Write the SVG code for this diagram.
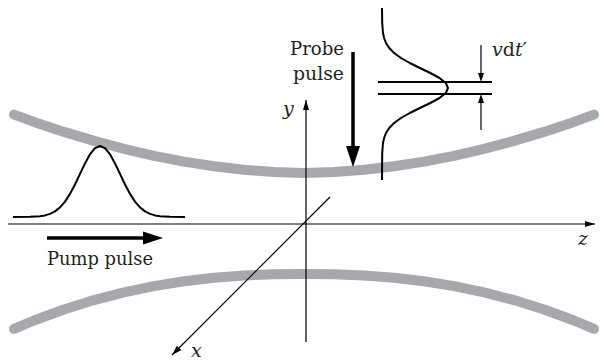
<svg xmlns="http://www.w3.org/2000/svg" width="600" height="361" viewBox="0 0 600 361">
<style>
.beam{fill:none;stroke:#a7a8ab;stroke-width:10;stroke-linecap:round;stroke-linejoin:round}
.ax{fill:none;stroke:#000;stroke-width:1.2}
.curve{fill:none;stroke:#000;stroke-width:2;stroke-linejoin:round}
</style>
<defs>
<marker id="ah" viewBox="0 0 10 6" refX="10" refY="3" markerWidth="10" markerHeight="6" markerUnits="userSpaceOnUse" orient="auto">
<path d="M0,0 L10,3 L0,6 Z" fill="#000"/>
</marker>
</defs>
<rect width="600" height="361" fill="#fff"/>
<g id="beams">
<polyline class="beam" points="14,114.6 34,121.9 64,131.9 94,140.9 124,148.9 154,155.8 184,161.6 214,166.3 244,169.8 274,172.1 304,173 334,172.1 364,169.8 394,166.3 424,161.6 454,155.8 484,148.9 514,140.9 544,131.9 574,121.9 594,114.6"/>
<polyline class="beam" points="14,328.8 34,320.5 64,309.5 94,300.1 124,292.3 154,286.1 184,281.2 214,277.7 244,275.5 274,274.3 304,274 334,274.3 364,275.5 394,277.7 424,281.2 454,286.1 484,292.3 514,300.1 544,309.5 574,320.5 594,328.8"/>
</g>
<g id="connectors">
<line class="ax" x1="8" y1="224" x2="595" y2="224" marker-end="url(#ah)"/>
<line class="ax" x1="306" y1="342" x2="306" y2="100" marker-end="url(#ah)"/>
<line class="ax" x1="330" y1="197" x2="172" y2="355" marker-end="url(#ah)"/>
<line x1="47" y1="238" x2="146" y2="238" stroke="#000" stroke-width="3.5"/>
<polygon points="163,238 143,231.5 143,244.5" fill="#000"/>
<line x1="353" y1="52" x2="353" y2="150" stroke="#000" stroke-width="3.5"/>
<polygon points="353,167 346,146 360,146" fill="#000"/>
<line x1="481" y1="45" x2="481" y2="74" stroke="#000" stroke-width="1.2"/>
<polygon points="481,82 478,73 484,73" fill="#000"/>
<line x1="481" y1="130" x2="481" y2="102" stroke="#000" stroke-width="1.2"/>
<polygon points="481,94 478,103 484,103" fill="#000"/>
</g>
<g font-family="'DejaVu Serif', 'Liberation Serif', 'Noto Serif', serif" font-size="19" fill="#231f20">
<g id="pump-pulse">
<path class="curve" d="M13,217 L30,216.85 L40,216.2 L45,215.4 L50,213.9 L55,211.35 L60,207.4 L65,201.6 L70,193.9 L75,184.5 L80,173.9 L85,163.4 L90,154.3 L95,148.2 L100,146 L105,148.2 L110,154.3 L115,163.4 L120,173.9 L125,184.5 L130,193.9 L135,201.6 L140,207.4 L145,211.35 L150,213.9 L155,215.4 L160,216.2 L170,216.85 L185,217"/>
<text x="47" y="265" textLength="106" lengthAdjust="spacingAndGlyphs">Pump pulse</text>
</g>
<g id="probe-pulse">
<path class="curve" d="M382,8 L382.2,23 L383,33 L384.1,38 L386,43 L389.2,48 L394.1,53 L401,58 L409.8,63 L419.9,68 L430.3,73 L439.5,78 L445.8,83 L448,88 L445.8,93 L439.5,98 L430.3,103 L419.9,108 L409.8,113 L401,118 L394.1,123 L389.2,128 L386,133 L384.1,138 L383,143 L382.2,153 L382,180"/>
<line x1="378" y1="82" x2="492" y2="82" stroke="#000" stroke-width="2"/>
<line x1="378" y1="94" x2="492" y2="94" stroke="#000" stroke-width="2"/>
<text x="290" y="55" textLength="54" lengthAdjust="spacingAndGlyphs">Probe</text>
<text x="293" y="80" textLength="51" lengthAdjust="spacingAndGlyphs">pulse</text>
<text x="492" y="56"><tspan font-style="italic">v</tspan>d<tspan font-style="italic">t</tspan>′</text>
</g>
<g id="axis-labels" font-style="italic">
<text x="578" y="245">z</text>
<text x="283" y="115">y</text>
<text x="191" y="357">x</text>
</g>
</g>
</svg>
